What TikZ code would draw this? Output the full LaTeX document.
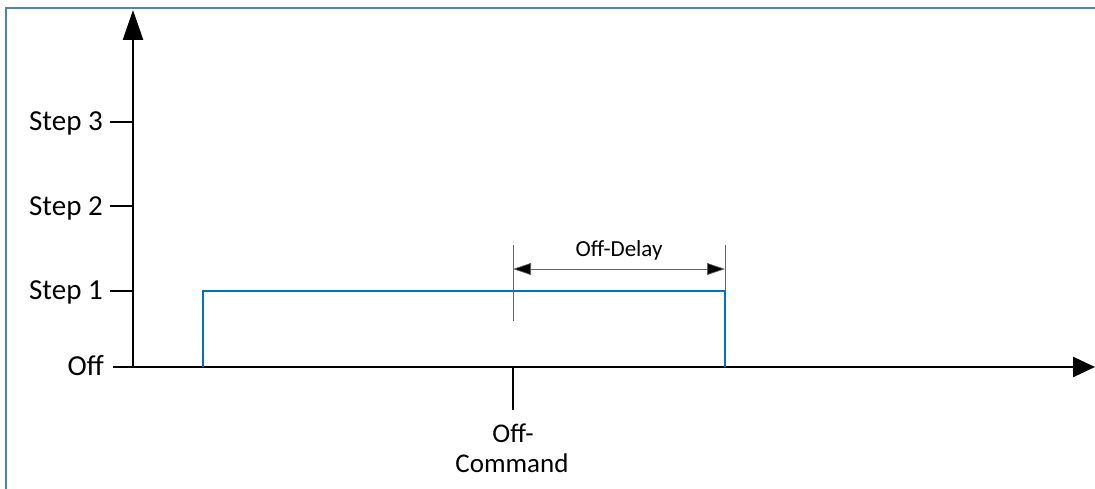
\documentclass[tikz,border=0pt]{standalone}
\usepackage{fontspec}
\setmainfont{Carlito}
\usetikzlibrary{arrows.meta}
\definecolor{frameblue}{HTML}{4F81BD}
\definecolor{sigblue}{HTML}{0070C0}
\tikzset{
  axis/.style={line width=2.6pt, -{Triangle[length=30pt,width=20pt]}},
  tickline/.style={line width=2pt},
  lbl/.style={font=\fontsize{29}{29}\selectfont, anchor=base east, inner sep=0pt},
  small/.style={font=\fontsize{27}{30}\selectfont, anchor=base, inner sep=0pt},
  guide/.style={line width=0.7pt, draw=black!60},
  signal/.style={line width=2pt, draw=sigblue}
}
\begin{document}
\begin{tikzpicture}[x=1pt,y=-1pt]
\useasboundingbox (0,0) rectangle (1095,489);
\fill[white] (0,0) rectangle (1095,489);
\draw[frameblue, line width=1.8pt] (6,495) -- (6,8) -- (1100,8);
% axes
\coordinate (O) at (133,367);
\coordinate (ytip) at (133,10);
\coordinate (xtip) at (1095,367);
\draw[axis] (133,368.3) -- (ytip);
\draw[line width=2.6pt, -{Triangle[length=22pt,width=20pt]}] (131.7,367) -- (xtip);
% ticks and labels
\coordinate (t3) at (110,122); \coordinate (a3) at (133,122);
\coordinate (t2) at (110,206); \coordinate (a2) at (133,206);
\coordinate (t1) at (110,291); \coordinate (a1) at (133,291);
\coordinate (t0) at (113,367);
\draw[tickline] (t3) -- (a3);
\draw[tickline] (t2) -- (a2);
\draw[tickline] (t1) -- (a1);
\draw[tickline] (t0) -- (O);
\node[lbl] (s3) at (103,131) {Step 3};
\node[lbl] (s2) at (103,215) {Step 2};
\node[lbl] (s1) at (103,299) {Step 1};
\node[lbl] (s0) at (104,375) {Off};
% signal
\coordinate (p0) at (203,367);
\coordinate (p1) at (203,291);
\coordinate (p2) at (725,291);
\coordinate (p3) at (725,367);
\draw[signal] (p0) -- (p1) -- (p2) -- (p3);
% off command
\coordinate (oc) at (513,367);
\coordinate (oct) at (513,410);
\draw[tickline] (oc) -- (oct);
\node[small] (ocl1) at (513,442) {Off-};
\node[small] (ocl2) at (512,472) {Command};
% off-delay dimension
\coordinate (d1a) at (513,245); \coordinate (d1b) at (513,321);
\coordinate (d2a) at (725,245);
\draw[guide] (d1a) -- (d1b);
\draw[guide] (d2a) -- (p2);
\coordinate (da) at (513,269); \coordinate (db) at (725,269);
\draw[guide, {Triangle[length=18pt,width=12pt,fill=black]}-{Triangle[length=18pt,width=12pt,fill=black]}] (da) -- (db);
\node[small, font=\fontsize{23}{23}\selectfont] (odl) at (619,256) {Off-Delay};
\end{tikzpicture}
\end{document}
